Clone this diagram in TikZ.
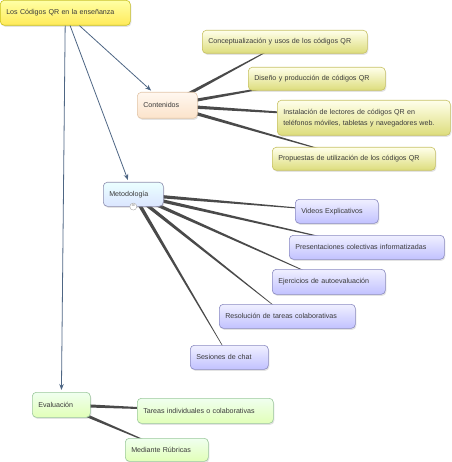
\documentclass[tikz,border=0pt]{standalone}
\usepackage{fontspec}
\usepackage{tikz}
\usetikzlibrary{arrows.meta,backgrounds,calc,shadows}
\newfontfamily\mapafont{Liberation Sans}
\definecolor{textoGris}{HTML}{3A3A3A}
\definecolor{enlaceGris}{HTML}{4A4A4A}
\definecolor{flechaAzul}{HTML}{4E6684}
\tikzset{
Caja/.style={
 rounded corners=4pt,
 line width=0.6pt,
 inner xsep=6pt,
 inner ysep=2pt,
 align=left,
 anchor=north west,
 text=textoGris,
 font=\mapafont\fontsize{7.1}{11}\selectfont,
 drop shadow={opacity=0.22,shadow xshift=1pt,shadow yshift=-1.5pt}
 },
Amarilla/.style={Caja, draw=yellow!45!olive!85!white, top color=yellow!35!white, bottom color=yellow!75!orange!65!white},
Rosa/.style={Caja, draw=brown!45!white, top color=orange!6!white, bottom color=brown!25!orange!22!white},
Crema/.style={Caja, draw=olive!50!white, top color=yellow!8!white, bottom color=yellow!30!olive!38!white},
Celeste/.style={Caja, draw=cyan!25!blue!35!gray!80!white, top color=cyan!8!white, bottom color=cyan!28!blue!14!white},
Lila/.style={Caja, draw=blue!30!gray!70!white, top color=blue!6!white, bottom color=blue!24!white},
Verde/.style={Caja, draw=green!30!gray!60!white, top color=green!6!white, bottom color=green!22!lime!28!white},
Flecha/.style={
 draw=flechaAzul,
 line width=0.8pt,
 shorten >=2pt,
 -{Stealth[length=6pt,width=4.5pt]}
 },
Plegar/.style={
 circle,
 draw=gray!70,
 fill=white,
 inner sep=0pt,
 minimum size=7pt,
 font=\mapafont\fontsize{6}{6}\selectfont
 }
}
% enlace que se estrecha de un concepto al siguiente
\newcommand\Enlace[2]{%
 \fill[enlaceGris] ($(#1)!1.9pt!90:(#2)$) -- ($(#2)!0.15pt!-90:(#1)$)
  -- ($(#2)!0.15pt!90:(#1)$) -- ($(#1)!1.9pt!-90:(#2)$) -- cycle;}

\begin{document}
\begin{tikzpicture}[x=1pt,y=-1pt]
\useasboundingbox (0,0) rectangle (451,462);
\node[Amarilla, text width=118pt, minimum height=25pt] (raiz) at (0,0) {Los Códigos QR en la enseñanza};
\node[Rosa, text width=48pt, minimum height=26pt] (cont) at (137,92) {Contenidos};
\node[Crema, text width=153pt, minimum height=23pt] (conc) at (202,30) {Conceptualización y usos de los códigos QR};
\node[Crema, text width=125pt, minimum height=23pt] (dise) at (248,67) {Diseño y producción de códigos QR};
\node[Crema, text width=161pt, minimum height=35pt] (inst) at (277,100) {Instalación de lectores de códigos QR en\\teléfonos móviles, tabletas y navegadores web.};
\node[Crema, text width=151pt, minimum height=23pt] (prop) at (272,147) {Propuestas de utilización de los códigos QR};
\node[Celeste, text width=48pt, minimum height=24pt] (meto) at (103,182) {Metodología};
\node[Plegar] (plegar) at (meto.south) {−};
\node[Lila, text width=71pt, minimum height=24pt] (vide) at (295,199) {Videos Explicativos};
\node[Lila, text width=143pt, minimum height=24pt] (pres) at (289,235) {Presentaciones colectivas informatizadas};
\node[Lila, text width=101pt, minimum height=25pt] (ejer) at (272,269) {Ejercicios de autoevaluación};
\node[Lila, text width=124pt, minimum height=24pt] (reso) at (219,304) {Resolución de tareas colaborativas};
\node[Lila, text width=66pt, minimum height=24pt] (sesi) at (190,345) {Sesiones de chat};
\node[Verde, text width=46pt, minimum height=25pt] (eval) at (32,392) {Evaluación};
\node[Verde, text width=124pt, minimum height=25pt] (tare) at (137,398) {Tareas individuales o colaborativas};
\node[Verde, text width=71pt, minimum height=23pt] (medi) at (125,438) {Mediante Rúbricas};
\draw[Flecha] (raiz) -- (cont);
\draw[Flecha] (raiz) -- (meto);
\draw[Flecha] (raiz) -- (eval);
\begin{scope}[on background layer]
\foreach \hoja in {conc,dise,inst,prop} {\Enlace{cont}{\hoja}}
\foreach \hoja in {vide,pres,ejer,reso,sesi} {\Enlace{meto}{\hoja}}
\foreach \hoja in {tare,medi} {\Enlace{eval}{\hoja}}
\end{scope}
\end{tikzpicture}
\end{document}
